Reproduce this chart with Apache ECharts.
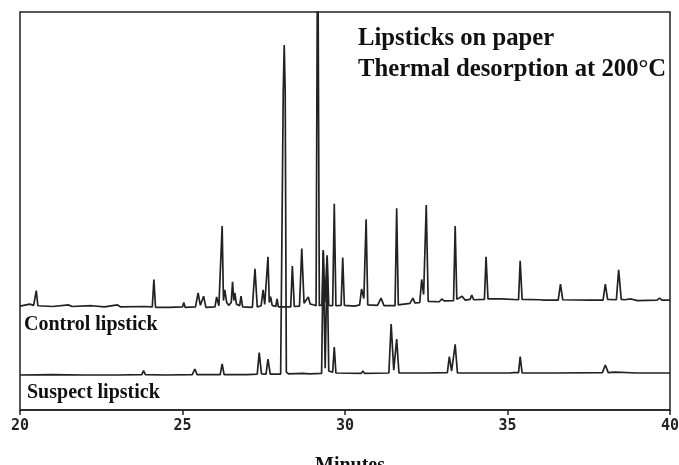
<!DOCTYPE html>
<html>
<head>
<meta charset="utf-8">
<script src="https://cdn.jsdelivr.net/npm/echarts@6/dist/echarts.min.js"></script>
<style>
  html, body { margin: 0; padding: 0; background: #fff; overflow: hidden; }
  #chart { width: 679px; height: 465px; }
</style>
</head>
<body>
<div id="chart"></div>
<script>
// retention time (min), detector signal (% of full scale)
const controlTrace = [
  [20.0, 26.1], [20.3, 26.6], [20.42, 26.3], [20.46, 26.4], [20.5, 30.0], [20.55, 26.2],
  [21.0, 26.0], [21.5, 26.4], [21.6, 26.0], [22.2, 26.2], [22.6, 25.9], [23.0, 26.4],
  [23.1, 25.9], [23.8, 26.0], [24.07, 25.9], [24.12, 32.8], [24.17, 25.8], [24.6, 25.8],
  [25.0, 25.9], [25.04, 27.0], [25.08, 25.8], [25.4, 25.9], [25.48, 29.4], [25.55, 26.3],
  [25.65, 28.6], [25.72, 25.8], [26.0, 25.9], [26.05, 28.4], [26.12, 26.2], [26.18, 26.5],
  [26.22, 46.2], [26.26, 27.5], [26.3, 30.2], [26.36, 27.0], [26.42, 26.3], [26.5, 27.0],
  [26.54, 32.2], [26.58, 27.5], [26.61, 29.4], [26.66, 26.6], [26.76, 26.2], [26.8, 28.6],
  [26.85, 25.9], [27.15, 25.8], [27.23, 35.5], [27.3, 25.9], [27.42, 26.2], [27.48, 30.2],
  [27.53, 26.5], [27.59, 26.8], [27.63, 38.5], [27.67, 27.0], [27.71, 28.5], [27.76, 26.3],
  [27.87, 26.0], [27.91, 27.9], [27.95, 25.9], [28.33, 25.9], [28.38, 36.2], [28.44, 26.0],
  [28.6, 26.1], [28.67, 40.6], [28.74, 26.8], [28.8, 27.0], [28.87, 28.4], [28.93, 26.6],
  [29.0, 26.5], [29.11, 26.2], [29.16, 130], [29.21, 26.2], [29.29, 26.4], [29.33, 40.2],
  [29.38, 27.0], [29.45, 38.9], [29.5, 26.3], [29.62, 26.2], [29.67, 51.8], [29.72, 26.2],
  [29.88, 26.3], [29.93, 38.3], [29.98, 26.3], [30.3, 26.1], [30.45, 26.4], [30.51, 30.4],
  [30.58, 28.0], [30.65, 47.9], [30.7, 26.4], [31.0, 26.3], [31.11, 28.1], [31.2, 26.2],
  [31.54, 26.2], [31.59, 50.7], [31.64, 26.4], [32.0, 26.8], [32.09, 28.1], [32.15, 26.9],
  [32.3, 27.0], [32.36, 32.8], [32.42, 29.0], [32.5, 51.5], [32.56, 27.3], [32.9, 27.2],
  [32.98, 27.9], [33.05, 27.4], [33.34, 27.5], [33.39, 46.2], [33.44, 27.8], [33.6, 28.6],
  [33.7, 27.6], [33.85, 27.8], [33.9, 28.9], [33.96, 27.7], [34.29, 27.8], [34.34, 38.5],
  [34.4, 27.9], [34.8, 27.9], [35.34, 27.7], [35.39, 37.5], [35.45, 27.8], [36.0, 27.7],
  [36.06, 28.1], [36.12, 27.6], [36.56, 27.6], [36.63, 31.6], [36.7, 27.7], [37.5, 27.6],
  [37.94, 27.6], [38.01, 31.6], [38.08, 27.8], [38.35, 27.7], [38.42, 35.2], [38.5, 27.8],
  [38.6, 27.7], [38.8, 27.9], [39.0, 27.5], [39.6, 27.6], [39.68, 28.1], [39.75, 27.6],
  [40.0, 27.6]
];

const suspectTrace = [
  [20.0, 8.8], [21.0, 8.9], [22.0, 8.8], [23.0, 8.8], [23.75, 8.9], [23.8, 9.9], [23.86, 8.9],
  [24.5, 8.8], [25.3, 8.9], [25.38, 10.3], [25.45, 8.9], [26.16, 8.9], [26.22, 11.6],
  [26.28, 8.9], [27.0, 8.9], [27.3, 9.0], [27.36, 14.4], [27.43, 9.1], [27.57, 9.0],
  [27.63, 12.8], [27.7, 9.0], [28.02, 9.0], [28.065, 9.4], [28.1, 80.0], [28.13, 91.7],
  [28.16, 80.0], [28.195, 9.5], [28.26, 9.1], [28.7, 9.2], [28.9, 9.1], [29.28, 9.2],
  [29.33, 39.7], [29.39, 10.5], [29.45, 38.2], [29.5, 9.8], [29.62, 9.5], [29.67, 15.8],
  [29.72, 9.3], [30.5, 9.2], [30.55, 9.8], [30.6, 9.2], [31.35, 9.3], [31.42, 21.6],
  [31.5, 10.0], [31.59, 17.8], [31.66, 9.3], [32.5, 9.3], [33.15, 9.4], [33.21, 13.4],
  [33.28, 9.8], [33.39, 16.5], [33.46, 9.3], [34.5, 9.3], [35.05, 9.3], [35.1, 9.8],
  [35.2, 9.4], [35.34, 9.4], [35.39, 13.4], [35.45, 9.3], [36.5, 9.3], [37.92, 9.4],
  [38.01, 11.3], [38.1, 9.4], [38.3, 9.5], [39.0, 9.3], [40.0, 9.3]
];

const timeTicks = [20, 25, 30, 35, 40];

const serif = '"Liberation Serif", "Times New Roman", serif';

const chart = echarts.init(document.getElementById('chart'));

const traceStyle = { color: '#222', width: 1.7 };

chart.setOption({
  animation: false,
  backgroundColor: '#fff',
  grid: {
    left: 20, right: 9, top: 12, bottom: 55,
    containLabel: false,
    outerBoundsMode: 'none',
    show: true, borderColor: '#222', borderWidth: 1.5
  },
  xAxis: {
    type: 'value',
    min: timeTicks[0],
    max: timeTicks[timeTicks.length - 1],
    interval: timeTicks[1] - timeTicks[0],
    name: 'Minutes',
    nameLocation: 'middle',
    nameGap: 46,
    nameTextStyle: {
      fontFamily: serif, fontWeight: 'bold', fontSize: 20, color: '#111',
      padding: [0, 0, 0, 10]
    },
    axisLine: { lineStyle: { color: '#222', width: 1.5 } },
    axisTick: { show: true, inside: false, length: 5, lineStyle: { color: '#222', width: 1.5 } },
    axisLabel: {
      fontFamily: '"DejaVu Sans Mono", monospace', fontWeight: 'bold',
      fontSize: 15, color: '#222', margin: 9
    },
    splitLine: { show: false }
  },
  yAxis: {
    type: 'value', min: 0, max: 100, show: false,
    splitLine: { show: false }
  },
  series: [
    {
      name: 'Control lipstick', type: 'line', data: controlTrace,
      symbol: 'none', clip: true, lineStyle: traceStyle
    },
    {
      name: 'Suspect lipstick', type: 'line', data: suspectTrace,
      symbol: 'none', clip: true, lineStyle: traceStyle
    }
  ],
  graphic: [
    {
      type: 'text', x: 358, y: 26,
      style: { text: 'Lipsticks on paper', font: 'bold 24.7px ' + serif, fill: '#111' }
    },
    {
      type: 'text', x: 358, y: 57,
      style: { text: 'Thermal desorption at 200°C', font: 'bold 24.7px ' + serif, fill: '#111' }
    },
    {
      type: 'text', x: 24, y: 315,
      style: { text: 'Control lipstick', font: 'bold 20px ' + serif, fill: '#111' }
    },
    {
      type: 'text', x: 27, y: 383,
      style: { text: 'Suspect lipstick', font: 'bold 20px ' + serif, fill: '#111' }
    }
  ]
});
</script>
</body>
</html>
